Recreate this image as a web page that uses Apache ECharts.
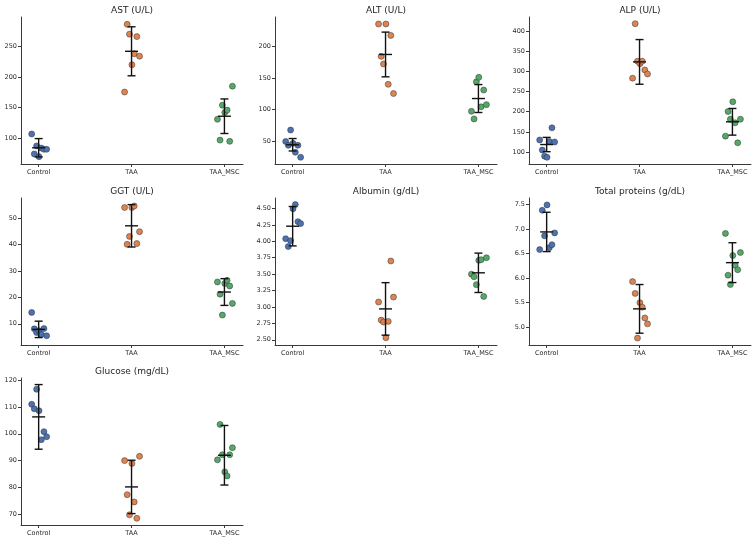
<!DOCTYPE html>
<html>
<head>
<meta charset="UTF-8">
<title>Serum biochemistry</title>
<script src="https://cdn.jsdelivr.net/npm/echarts@6/dist/echarts.min.js"></script>
<style>
    html, body { margin: 0; padding: 0; background: #fff; }
    #chart { width: 756px; height: 543px; }
</style>
</head>
<body>
<div id="chart"></div>
<script>
    var groups = ['Control', 'TAA', 'TAA_MSC'];
    var groupColors = ['#4c72b0', '#dd8452', '#55a868'];
    // horizontal jitter of the 7 animals inside a group (category units), left to right
    var jitter = [-0.075, -0.047, -0.022, 0.004, 0.029, 0.057, 0.086];

    var astValues = [[107, 74.5, 87.5, 70, 84, 82, 82], [175.5, 286, 270, 220, 238, 266, 234], [131, 97, 154, 142, 146, 95, 185]];
    var astMean = [84.5, 242, 136];
    var astSd = [15, 40, 28.2];
    var astTicks = [100, 150, 200, 250];

    var altValues = [[50, 44, 68, 47, 33, 44, 25], [235, 184, 172, 235, 140, 217, 125.5], [97.5, 85.5, 144, 151, 104.5, 131, 108]];
    var altMean = [44.8, 187, 117.6];
    var altSd = [9.8, 35.2, 22];
    var altTicks = [50, 100, 150, 200];

    var alpValues = [[130, 105, 90, 87, 126.5, 160, 125], [283, 418, 325, 319, 325, 303.5, 293.5], [139.5, 200.5, 181.5, 224.5, 172.5, 123, 181.5]];
    var alpMean = [118.7, 323.3, 175];
    var alpSd = [17.7, 55.3, 33];
    var alpTicks = [100, 150, 200, 250, 300, 350, 400];

    var ggtValues = [[14.3, 8.1, 6.7, 7.4, 6, 8.2, 5.5], [53.9, 40, 43, 53.9, 54.5, 40.3, 44.8], [25.8, 21.2, 13.3, 25.2, 26.4, 24.3, 17.7]];
    var ggtMean = [7.9, 47, 22];
    var ggtSd = [3.1, 8, 5.05];
    var ggtTicks = [10, 20, 30, 40, 50];

    var albValues = [[4.04, 3.92, 4.01, 4.495, 4.56, 4.3, 4.27], [3.075, 2.8, 2.77, 2.53, 2.78, 3.7, 3.15], [3.5, 3.46, 3.34, 3.71, 3.72, 3.16, 3.75]];
    var albMean = [4.23, 2.97, 3.52];
    var albSd = [0.3, 0.4, 0.3];
    var albTicks = [2.5, 2.75, 3, 3.25, 3.5, 3.75, 4, 4.25, 4.5];

    var tpValues = [[6.58, 7.38, 6.86, 7.49, 6.62, 6.68, 6.92], [5.93, 5.69, 4.78, 5.5, 5.41, 5.19, 5.07], [6.91, 6.06, 5.87, 6.46, 6.26, 6.17, 6.52]];
    var tpMean = [6.94, 5.375, 6.315];
    var tpSd = [0.4, 0.495, 0.405];
    var tpTicks = [5, 5.5, 6, 6.5, 7, 7.5];

    var gluValues = [[111, 109.3, 116.6, 108.6, 97.8, 100.8, 98.9], [90, 77.3, 69.8, 88.9, 74.6, 68.5, 91.6], [90.3, 103.5, 92.2, 85.8, 84.3, 92.2, 94.8]];
    var gluMean = [106.3, 80.2, 92];
    var gluSd = [12.05, 9.95, 11.1];
    var gluTicks = [70, 80, 90, 100, 110, 120];

    var panels = [
        { title: 'AST (U/L)', values: astValues, mean: astMean, sd: astSd, ticks: astTicks, min: 58, max: 298, digits: 0 },
        { title: 'ALT (U/L)', values: altValues, mean: altMean, sd: altSd, ticks: altTicks, min: 14.5, max: 246, digits: 0 },
        { title: 'ALP (U/L)', values: alpValues, mean: alpMean, sd: alpSd, ticks: alpTicks, min: 70.5, max: 434.5, digits: 0 },
        { title: 'GGT (U/L)', values: ggtValues, mean: ggtMean, sd: ggtSd, ticks: ggtTicks, min: 2, max: 57.5, digits: 0 },
        { title: 'Albumin (g/dL)', values: albValues, mean: albMean, sd: albSd, ticks: albTicks, min: 2.42, max: 4.66, digits: 2 },
        { title: 'Total proteins (g/dL)', values: tpValues, mean: tpMean, sd: tpSd, ticks: tpTicks, min: 4.64, max: 7.63, digits: 1 },
        { title: 'Glucose (mg/dL)', values: gluValues, mean: gluMean, sd: gluSd, ticks: gluTicks, min: 66, max: 120.8, digits: 0 }
    ];

    var colLeft = [21, 275, 529];
    var rowTop = [17, 198, 378];
    var plotW = 222, plotH = 147;
    var font = 'DejaVu Sans';
    var axisColor = '#3a3a3a';

    var grids = [], xAxes = [], yAxes = [], titles = [], series = [];

    panels.forEach(function (p, i) {
        var left = colLeft[i % 3];
        var top = rowTop[Math.floor(i / 3)];
        grids.push({ left: left, top: top, width: plotW, height: plotH });
        titles.push({
            text: p.title,
            left: left + plotW / 2,
            top: top - 11,
            textAlign: 'center',
            padding: 0,
            textStyle: { fontSize: 9, fontWeight: 'normal', color: '#1e1e1e', fontFamily: font }
        });
        xAxes.push({
            gridIndex: i,
            type: 'value',
            min: -0.19,
            max: 2.2,
            splitLine: { show: false },
            axisLine: { show: true, onZero: false, lineStyle: { color: axisColor, width: 1 } },
            axisTick: { show: true, customValues: [0, 1, 2], length: 3, lineStyle: { color: axisColor } },
            axisLabel: {
                customValues: [0, 1, 2],
                formatter: function (v) { return groups[Math.round(v)]; },
                fontSize: 6.5, color: '#2a2a2a', fontFamily: font, margin: 5
            }
        });
        yAxes.push({
            gridIndex: i,
            type: 'value',
            min: p.min,
            max: p.max,
            splitLine: { show: false },
            axisLine: { show: true, onZero: false, lineStyle: { color: axisColor, width: 1 } },
            axisTick: { show: true, customValues: p.ticks, length: 3, lineStyle: { color: axisColor } },
            axisLabel: {
                customValues: p.ticks,
                formatter: function (v) { return v.toFixed(p.digits); },
                fontSize: 6.5, color: '#2a2a2a', fontFamily: font, margin: 4
            }
        });

        p.values.forEach(function (vals, k) {
            series.push({
                type: 'scatter',
                xAxisIndex: i,
                yAxisIndex: i,
                z: 2,
                symbolSize: 6,
                itemStyle: { color: groupColors[k], borderColor: 'rgba(45,45,45,0.8)', borderWidth: 0.6, opacity: 1 },
                data: vals.map(function (v, j) { return [k + jitter[j], v]; })
            });
        });

        series.push({
            type: 'custom',
            xAxisIndex: i,
            yAxisIndex: i,
            z: 5,
            data: groups.map(function (g, k) {
                return [k, p.mean[k], p.mean[k] - p.sd[k], p.mean[k] + p.sd[k]];
            }),
            encode: { x: 0, y: [1, 2, 3] },
            renderItem: function (params, api) {
                var x = api.value(0);
                var m = api.coord([x, api.value(1)]);
                var lo = api.coord([x, api.value(2)]);
                var hi = api.coord([x, api.value(3)]);
                var st = { stroke: '#111', lineWidth: 1.4 };
                return {
                    type: 'group',
                    children: [
                        { type: 'line', shape: { x1: lo[0], y1: lo[1], x2: hi[0], y2: hi[1] }, style: st },
                        { type: 'line', shape: { x1: hi[0] - 4, y1: hi[1], x2: hi[0] + 4, y2: hi[1] }, style: st },
                        { type: 'line', shape: { x1: lo[0] - 4, y1: lo[1], x2: lo[0] + 4, y2: lo[1] }, style: st },
                        { type: 'line', shape: { x1: m[0] - 6.5, y1: m[1], x2: m[0] + 6.5, y2: m[1] }, style: st }
                    ]
                };
            }
        });
    });

    var myChart = echarts.init(document.getElementById('chart'));
    myChart.setOption({
        animation: false,
        backgroundColor: '#fff',
        title: titles,
        grid: grids,
        xAxis: xAxes,
        yAxis: yAxes,
        series: series
    });
</script>
</body>
</html>
